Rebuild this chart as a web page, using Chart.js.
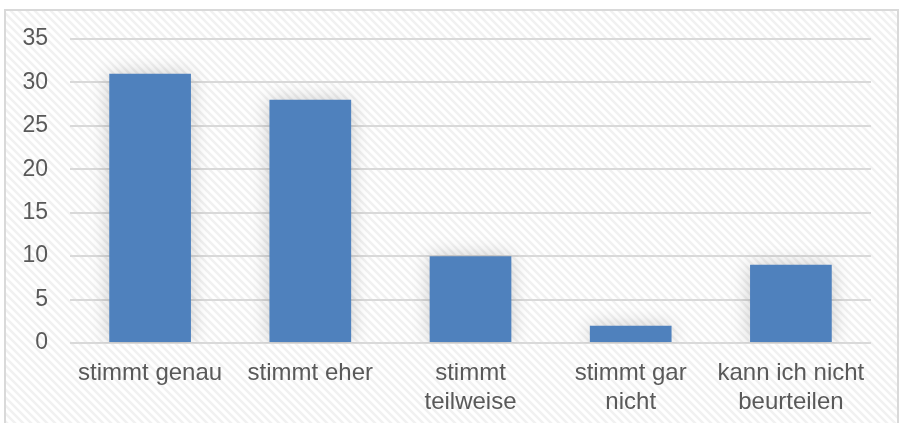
<!DOCTYPE html>
<html>
<head>
<meta charset="utf-8">
<script src="https://cdn.jsdelivr.net/npm/chart.js@4"></script>
<style>
html,body{margin:0;padding:0;background:#fff;}
#wrap{width:901px;height:423px;position:relative;}
</style>
</head>
<body>
<div id="wrap"><canvas id="c" width="901" height="423"></canvas></div>
<script>
const categories=[["stimmt genau"],["stimmt eher"],["stimmt","teilweise"],["stimmt gar","nicht"],["kann ich nicht","beurteilen"]];
const values=[31,28,10,2,9];
const yTicks=[0,5,10,15,20,25,30,35];

// diagonal hatch like the office chart background
function makePattern(ctx){
    const p=document.createElement('canvas');
    p.width=8;p.height=8;
    const g=p.getContext('2d');
    g.fillStyle='#ffffff';
    g.fillRect(0,0,8,8);
    g.strokeStyle='#f1f1f1';
    g.lineWidth=2.5;
    g.beginPath();
    g.moveTo(-2,-2);g.lineTo(10,10);
    g.moveTo(-2,6);g.lineTo(2,10);
    g.moveTo(6,-2);g.lineTo(10,2);
    g.stroke();
    return ctx.createPattern(p,'repeat');
}

const framePlugin={
    id:'frame',
    beforeDraw(chart){
        const ctx=chart.ctx;
        ctx.save();
        ctx.fillStyle=makePattern(ctx);
        ctx.fillRect(5,10,893,420);
        ctx.strokeStyle='#d9d9d9';
        ctx.lineWidth=2;
        ctx.strokeRect(5,10,893,420);
        ctx.restore();
    }
};

const shadowPlugin={
    id:'shadow',
    beforeDatasetsDraw(chart){
        chart.ctx.save();
        chart.ctx.shadowColor='rgba(0,0,0,0.2)';
        chart.ctx.shadowBlur=18;
        chart.ctx.shadowOffsetX=0;
        chart.ctx.shadowOffsetY=0;
    },
    afterDatasetsDraw(chart){
        chart.ctx.restore();
    }
};

const yFont={family:'"Liberation Sans", Arial, sans-serif',size:23};
const xFont={family:'"Liberation Sans", Arial, sans-serif',size:24,lineHeight:1.2};

const ctx=document.getElementById('c').getContext('2d');
new Chart(ctx,{
    type:'bar',
    data:{
        labels:categories,
        datasets:[{
            data:values,
            backgroundColor:'#4f81bd',
            borderWidth:0,
            categoryPercentage:1,
            barPercentage:0.51
        }]
    },
    options:{
        responsive:false,
        animation:false,
        devicePixelRatio:1,
        layout:{padding:{left:0,right:30,top:39,bottom:0}},
        plugins:{legend:{display:false},tooltip:{enabled:false}},
        scales:{
            x:{
                afterFit(s){s.height=80;},
                grid:{display:false,drawTicks:false},
                border:{display:false},
                ticks:{color:'#595959',font:xFont,padding:16,maxRotation:0,autoSkip:false}
            },
            y:{
                min:0,max:35,
                afterFit(s){s.width=70;},
                afterBuildTicks(s){s.ticks=yTicks.map(v=>({value:v}));},
                grid:{color:'#d9d9d9',lineWidth:2,drawTicks:false},
                border:{display:false},
                ticks:{color:'#595959',font:yFont,padding:22}
            }
        }
    },
    plugins:[framePlugin,shadowPlugin]
});
</script>
</body>
</html>
